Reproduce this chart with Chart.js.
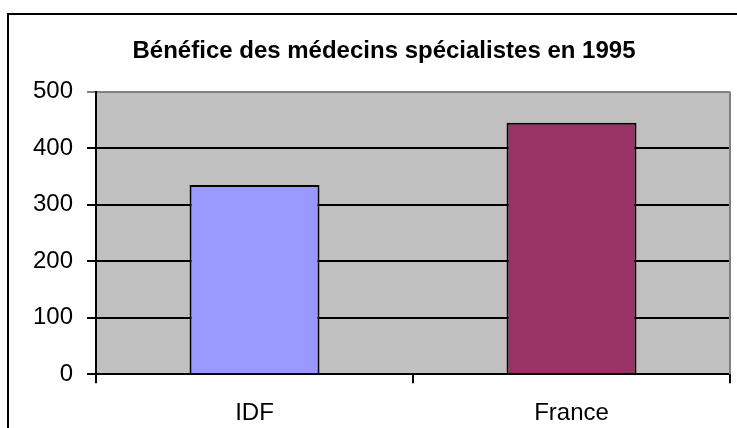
<!DOCTYPE html>
<html>
<head>
<meta charset="utf-8">
<script src="https://cdn.jsdelivr.net/npm/chart.js@4"></script>
<style>
  html, body { margin: 0; padding: 0; background: #fff; overflow: hidden; width: 737px; height: 428px; }
  #frame { position: absolute; left: 7px; top: 13px; width: 800px; height: 500px;
           border-left: 2px solid #000; border-top: 2px solid #000; }
  #myChart { position: absolute; left: 9px; top: 15px; }
</style>
</head>
<body>
<div id="frame"></div>
<canvas id="myChart" width="740" height="434"></canvas>
<script>
// données
var categories = ["IDF", "France"];
var benefice = [335, 445];
var couleurs = ["#9999FF", "#993366"];
var yTicks = [0, 100, 200, 300, 400, 500];

var police = "'Liberation Sans', Arial, sans-serif";

// fond gris de la zone de traçage + bordure droite
var fondZone = {
    id: "fondZone",
    beforeDraw(chart) {
        var a = chart.chartArea;
        var ctx = chart.ctx;
        ctx.save();
        ctx.fillStyle = "#C0C0C0";
        ctx.fillRect(a.left, a.top, a.right - a.left, a.bottom - a.top);
        ctx.restore();
    },
    afterDraw(chart) {
        var a = chart.chartArea;
        var ctx = chart.ctx;
        ctx.save();
        ctx.strokeStyle = "#808080";
        ctx.lineWidth = 2;
        ctx.beginPath();
        ctx.moveTo(a.right, a.top);
        ctx.lineTo(a.right, a.bottom);
        ctx.stroke();
        ctx.restore();
    }
};

var data = {
    labels: categories,
    datasets: [{
        label: "Bénéfice",
        data: benefice,
        backgroundColor: couleurs,
        borderColor: "#000",
        borderWidth: 2,
        categoryPercentage: 1,
        barPercentage: 0.41
    }]
};

const config = {
    type: "bar",
    data: data,
    plugins: [fondZone],
    options: {
        responsive: false,
        devicePixelRatio: 1,
        animation: false,
        layout: {
            padding: { left: 10, right: 0, top: 0, bottom: 5 }
        },
        plugins: {
            legend: { display: false },
            tooltip: { enabled: false },
            title: {
                display: true,
                text: "Bénéfice des médecins spécialistes en 1995",
                color: "#000",
                font: { family: police, size: 24, weight: "bold" },
                padding: { top: 22, bottom: 26 }
            }
        },
        scales: {
            x: {
                grid: {
                    offset: true,
                    drawOnChartArea: false,
                    color: "#000",
                    lineWidth: 2,
                    tickLength: 9
                },
                border: { color: "#000", width: 2 },
                ticks: {
                    color: "#000",
                    font: { family: police, size: 24 },
                    padding: 16
                }
            },
            y: {
                min: 0,
                max: 500,
                afterBuildTicks: function (axis) {
                    axis.ticks = yTicks.map(v => ({ value: v }));
                },
                grid: {
                    color: ctx => (ctx.tick && ctx.tick.value === 500) ? "#808080" : "#000",
                    lineWidth: 2,
                    tickLength: 9
                },
                border: { color: "#000", width: 2 },
                ticks: {
                    color: "#000",
                    font: { family: police, size: 24 },
                    padding: 14
                }
            },
            // axe vide à droite, juste pour la marge (le titre reste centré comme dans Excel)
            marge: {
                position: "right",
                min: 0,
                max: 500,
                grid: { display: false },
                border: { display: false },
                ticks: { display: false },
                afterFit: function (axis) { axis.width = 19; }
            }
        }
    }
};

const myChart = new Chart(document.getElementById("myChart"), config);
</script>
</body>
</html>
